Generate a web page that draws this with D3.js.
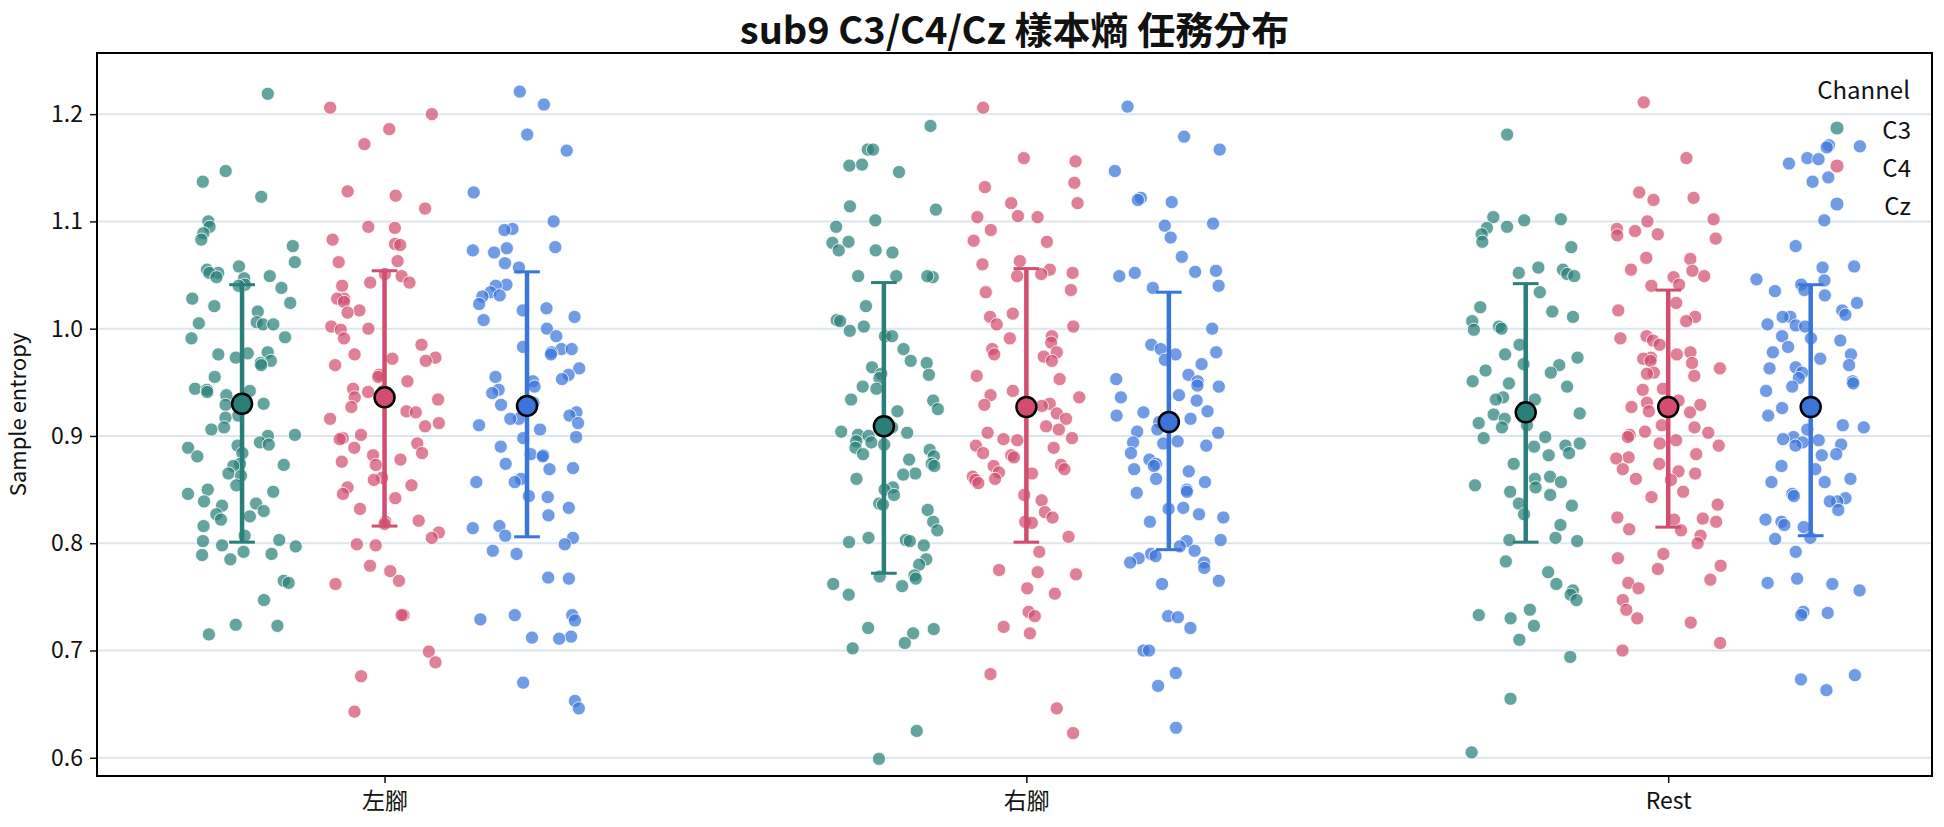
<!DOCTYPE html>
<html>
<head>
<meta charset="utf-8">
<script src="https://cdn.jsdelivr.net/npm/d3@7"></script>
<style>
  body { margin: 0; background: #fff; }
  text { font-family: "Noto Sans CJK TC", "Noto Sans", sans-serif; fill: #111; }
</style>
</head>
<body>
<div id="chart"></div>
<script>
// categories
var tasks = ["左腳", "右腳", "Rest"];
var channels = ["C3", "C4", "Cz"];
var yTicks = [0.6, 0.7, 0.8, 0.9, 1.0, 1.1, 1.2];

// sample entropy per trial
var leftC3 = [1.219,1.147,1.137,1.123,1.100,1.095,1.089,1.083,1.077,1.062,1.058,1.055,1.052,1.052,1.049,1.048,1.047,1.041,1.040,1.038,1.028,1.024,1.021,1.016,1.006,1.005,1.004,1.004,0.992,0.991,0.978,0.977,0.976,0.973,0.970,0.968,0.966,0.955,0.944,0.943,0.942,0.941,0.938,0.930,0.929,0.919,0.917,0.908,0.906,0.901,0.900,0.894,0.892,0.891,0.889,0.884,0.881,0.874,0.873,0.872,0.865,0.863,0.854,0.850,0.848,0.846,0.839,0.837,0.835,0.830,0.827,0.825,0.822,0.816,0.807,0.803,0.802,0.798,0.797,0.792,0.790,0.789,0.785,0.765,0.763,0.747,0.724,0.723,0.715];
var leftC4 = [1.206,1.200,1.186,1.172,1.128,1.124,1.112,1.095,1.094,1.083,1.079,1.078,1.063,1.062,1.051,1.049,1.043,1.043,1.040,1.028,1.028,1.025,1.017,1.015,1.002,1.000,0.999,0.991,0.985,0.976,0.973,0.972,0.970,0.966,0.957,0.955,0.951,0.944,0.942,0.941,0.936,0.934,0.927,0.923,0.922,0.916,0.912,0.909,0.901,0.898,0.897,0.893,0.889,0.884,0.882,0.878,0.876,0.873,0.861,0.859,0.854,0.852,0.846,0.842,0.832,0.821,0.820,0.818,0.810,0.805,0.799,0.798,0.779,0.774,0.765,0.762,0.733,0.733,0.699,0.689,0.676,0.643];
var leftCz = [1.221,1.209,1.181,1.166,1.127,1.100,1.093,1.092,1.076,1.075,1.073,1.071,1.061,1.057,1.041,1.040,1.034,1.031,1.030,1.023,1.019,1.017,1.011,1.008,1.000,0.993,0.983,0.981,0.981,0.978,0.976,0.963,0.957,0.955,0.953,0.951,0.946,0.943,0.940,0.931,0.929,0.922,0.919,0.916,0.916,0.912,0.910,0.906,0.899,0.898,0.890,0.883,0.882,0.881,0.874,0.870,0.869,0.860,0.857,0.857,0.844,0.843,0.833,0.826,0.816,0.814,0.807,0.805,0.799,0.793,0.790,0.768,0.767,0.733,0.733,0.729,0.728,0.713,0.712,0.711,0.670,0.653,0.646];
var rightC3 = [1.189,1.167,1.167,1.153,1.152,1.146,1.114,1.111,1.101,1.095,1.081,1.080,1.073,1.073,1.071,1.049,1.049,1.048,1.049,1.021,1.008,1.007,1.002,0.998,0.993,0.993,0.981,0.970,0.968,0.964,0.958,0.957,0.954,0.946,0.944,0.934,0.933,0.925,0.923,0.908,0.904,0.903,0.901,0.900,0.895,0.894,0.892,0.889,0.887,0.883,0.881,0.878,0.874,0.872,0.865,0.864,0.860,0.852,0.850,0.845,0.837,0.836,0.831,0.820,0.812,0.805,0.803,0.802,0.801,0.798,0.785,0.780,0.770,0.769,0.767,0.762,0.760,0.752,0.721,0.720,0.716,0.707,0.702,0.625,0.599];
var rightC4 = [1.206,1.159,1.156,1.136,1.132,1.117,1.117,1.105,1.104,1.104,1.092,1.082,1.081,1.063,1.060,1.055,1.052,1.051,1.049,1.036,1.034,1.014,1.011,1.004,1.002,0.993,0.991,0.987,0.981,0.978,0.976,0.974,0.970,0.956,0.953,0.942,0.938,0.936,0.930,0.929,0.928,0.921,0.916,0.909,0.906,0.903,0.898,0.897,0.896,0.891,0.889,0.884,0.882,0.880,0.873,0.872,0.869,0.866,0.865,0.862,0.860,0.859,0.856,0.845,0.840,0.829,0.824,0.820,0.819,0.806,0.792,0.775,0.773,0.771,0.758,0.753,0.736,0.732,0.722,0.716,0.678,0.646,0.623];
var rightCz = [1.207,1.179,1.167,1.147,1.122,1.120,1.118,1.098,1.096,1.085,1.067,1.054,1.053,1.052,1.049,1.040,1.038,1.000,0.985,0.981,0.978,0.976,0.971,0.967,0.957,0.953,0.951,0.947,0.946,0.938,0.936,0.933,0.923,0.922,0.919,0.916,0.913,0.906,0.904,0.903,0.895,0.894,0.893,0.891,0.884,0.878,0.874,0.872,0.869,0.867,0.860,0.857,0.850,0.848,0.847,0.833,0.832,0.827,0.824,0.820,0.803,0.802,0.797,0.793,0.790,0.788,0.786,0.782,0.782,0.777,0.765,0.762,0.732,0.731,0.721,0.700,0.700,0.679,0.667,0.628];
var restC3 = [1.181,1.104,1.102,1.101,1.095,1.094,1.088,1.081,1.076,1.057,1.055,1.052,1.051,1.049,1.034,1.020,1.016,1.011,1.007,1.002,1.000,0.999,0.985,0.976,0.973,0.967,0.966,0.961,0.959,0.951,0.949,0.946,0.936,0.934,0.934,0.921,0.920,0.916,0.912,0.910,0.908,0.899,0.898,0.893,0.891,0.890,0.884,0.882,0.874,0.862,0.860,0.857,0.854,0.852,0.848,0.845,0.837,0.835,0.827,0.817,0.805,0.803,0.802,0.783,0.773,0.762,0.756,0.752,0.747,0.738,0.733,0.730,0.723,0.710,0.694,0.655,0.605];
var restC4 = [1.211,1.159,1.127,1.122,1.120,1.102,1.100,1.093,1.091,1.088,1.087,1.084,1.066,1.065,1.055,1.054,1.049,1.048,1.041,1.040,1.024,1.017,1.011,1.007,0.993,0.991,0.989,0.985,0.978,0.976,0.973,0.972,0.970,0.968,0.963,0.959,0.958,0.956,0.944,0.943,0.933,0.931,0.929,0.927,0.923,0.922,0.910,0.908,0.904,0.903,0.901,0.899,0.896,0.893,0.891,0.883,0.880,0.879,0.874,0.869,0.867,0.865,0.860,0.859,0.848,0.843,0.836,0.824,0.823,0.822,0.820,0.813,0.812,0.807,0.800,0.790,0.786,0.779,0.776,0.766,0.763,0.758,0.747,0.738,0.730,0.726,0.707,0.700];
var restCz = [1.171,1.170,1.169,1.159,1.158,1.154,1.141,1.137,1.101,1.077,1.058,1.057,1.046,1.045,1.041,1.036,1.035,1.031,1.024,1.017,1.013,1.011,1.011,1.004,1.003,1.002,0.993,0.991,0.989,0.983,0.978,0.976,0.972,0.966,0.964,0.963,0.959,0.954,0.951,0.949,0.946,0.942,0.926,0.919,0.910,0.908,0.906,0.899,0.897,0.896,0.894,0.892,0.891,0.883,0.882,0.872,0.869,0.860,0.857,0.857,0.846,0.844,0.842,0.839,0.839,0.831,0.822,0.820,0.817,0.815,0.805,0.804,0.792,0.767,0.763,0.762,0.756,0.736,0.735,0.733,0.677,0.673,0.663];

// mean and mean±sd per channel, in task order
var meanC3 = [0.930, 0.909, 0.922];
var meanC4 = [0.936, 0.927, 0.927];
var meanCz = [0.928, 0.913, 0.927];
var hiC3 = [1.041, 1.043, 1.042];
var hiC4 = [1.054, 1.056, 1.036];
var hiCz = [1.053, 1.034, 1.041];
var loC3 = [0.801, 0.772, 0.801];
var loC4 = [0.816, 0.801, 0.815];
var loCz = [0.806, 0.794, 0.807];

var pointColor = {C3: "#2a7f78", C4: "#d24d70", Cz: "#3a75d9"};

var samples = [
  [leftC3, leftC4, leftCz],
  [rightC3, rightC4, rightCz],
  [restC3, restC4, restCz]
];
var summary = {
  C3: {mean: meanC3, hi: hiC3, lo: loC3},
  C4: {mean: meanC4, hi: hiC4, lo: loC4},
  Cz: {mean: meanCz, hi: hiCz, lo: loCz}
};

var W = 1944, H = 827;
var margin = {top: 53, right: 12, bottom: 51, left: 97};

var svg = d3.select("#chart").append("svg")
  .attr("width", W).attr("height", H);

var x = d3.scaleLinear()
  .domain([-0.448, 2.411])
  .range([margin.left, W - margin.right]);
var y = d3.scaleLinear()
  .domain([0.583, 1.257])
  .range([H - margin.bottom, margin.top]);

var dodge = d3.scalePoint().domain(channels).range([-0.222, 0.222]);

// horizontal grid
svg.append("g")
  .selectAll("line")
  .data(yTicks)
  .enter().append("line")
  .attr("x1", x.range()[0]).attr("x2", x.range()[1])
  .attr("y1", function(d) { return y(d); })
  .attr("y2", function(d) { return y(d); })
  .attr("stroke", "#dde6ec")
  .attr("stroke-width", 2);

// strip points, seeded jitter so it's stable
var jit = d3.randomUniform.source(d3.randomLcg(0.42))(-0.085, 0.085);
var pts = [];
samples.forEach(function(group, ti) {
  group.forEach(function(vals, ci) {
    vals.forEach(function(v) {
      pts.push({task: ti, ch: channels[ci], v: v, j: jit()});
    });
  });
});

svg.append("g")
  .selectAll("circle")
  .data(pts)
  .enter().append("circle")
  .attr("cx", function(d) { return x(d.task + dodge(d.ch) + d.j); })
  .attr("cy", function(d) { return y(d.v); })
  .attr("r", 6.6)
  .attr("fill", function(d) { return pointColor[d.ch]; })
  .attr("fill-opacity", 0.72)
  .attr("stroke", "#fff")
  .attr("stroke-width", 0.8);

// error bars + means
var capW = 0.02;
channels.forEach(function(ch) {
  var s = summary[ch];
  var g = svg.append("g").attr("stroke", pointColor[ch]).attr("stroke-width", 4.5);
  tasks.forEach(function(t, ti) {
    var cx = ti + dodge(ch);
    g.append("line")
      .attr("x1", x(cx)).attr("x2", x(cx))
      .attr("y1", y(s.lo[ti])).attr("y2", y(s.hi[ti]));
    [s.lo[ti], s.hi[ti]].forEach(function(v) {
      g.append("line")
        .attr("x1", x(cx - capW)).attr("x2", x(cx + capW))
        .attr("y1", y(v)).attr("y2", y(v))
        .attr("stroke-width", 3);
    });
  });
  svg.append("g")
    .selectAll("circle")
    .data(s.mean)
    .enter().append("circle")
    .attr("cx", function(d, i) { return x(i + dodge(ch)); })
    .attr("cy", function(d) { return y(d); })
    .attr("r", 10)
    .attr("fill", pointColor[ch])
    .attr("stroke", "#000")
    .attr("stroke-width", 2.5);
});

// axes
var yAxis = svg.append("g")
  .attr("transform", "translate(" + margin.left + ",0)")
  .call(d3.axisLeft(y).tickValues(yTicks).tickFormat(d3.format(".1f")).tickSize(7).tickPadding(7));
yAxis.select(".domain").remove();
yAxis.selectAll(".tick line").attr("stroke", "#111").attr("stroke-width", 1.5);
yAxis.selectAll("text").style("font-size", "23px");

var xAxis = svg.append("g")
  .attr("transform", "translate(0," + (H - margin.bottom) + ")")
  .call(d3.axisBottom(x).tickValues([0, 1, 2]).tickFormat(function(d) { return tasks[d]; }).tickSize(7).tickPadding(10));
xAxis.select(".domain").remove();
xAxis.selectAll(".tick line").attr("stroke", "#111").attr("stroke-width", 1.5);
xAxis.selectAll("text").style("font-size", "23px");

// frame
svg.append("rect")
  .attr("x", margin.left).attr("y", margin.top)
  .attr("width", W - margin.left - margin.right)
  .attr("height", H - margin.top - margin.bottom)
  .attr("fill", "none")
  .attr("stroke", "#000")
  .attr("stroke-width", 2);

// title and y label
svg.append("text")
  .attr("x", (x.range()[0] + x.range()[1]) / 2)
  .attr("y", 44)
  .attr("text-anchor", "middle")
  .style("font-size", "38px")
  .style("font-weight", "bold")
  .text("sub9 C3/C4/Cz 樣本熵 任務分布");

svg.append("text")
  .attr("transform", "translate(26," + ((margin.top + H - margin.bottom) / 2) + ") rotate(-90)")
  .attr("text-anchor", "middle")
  .style("font-size", "22px")
  .text("Sample entropy");

// legend
var legend = svg.append("g").attr("class", "legend");
legend.append("text")
  .attr("x", 1910).attr("y", 88)
  .attr("text-anchor", "end")
  .attr("dominant-baseline", "central")
  .style("font-size", "24px")
  .text("Channel");
legend.selectAll("circle")
  .data(channels)
  .enter().append("circle")
  .attr("cx", 1837)
  .attr("cy", function(d, i) { return 128 + i * 38; })
  .attr("r", 6.6)
  .attr("fill", function(d) { return pointColor[d]; })
  .attr("fill-opacity", 0.72);
legend.selectAll(".lab")
  .data(channels)
  .enter().append("text")
  .attr("class", "lab")
  .attr("x", 1911)
  .attr("y", function(d, i) { return 128 + i * 38; })
  .attr("text-anchor", "end")
  .attr("dominant-baseline", "central")
  .style("font-size", "24px")
  .text(function(d) { return d; });
</script>
</body>
</html>
